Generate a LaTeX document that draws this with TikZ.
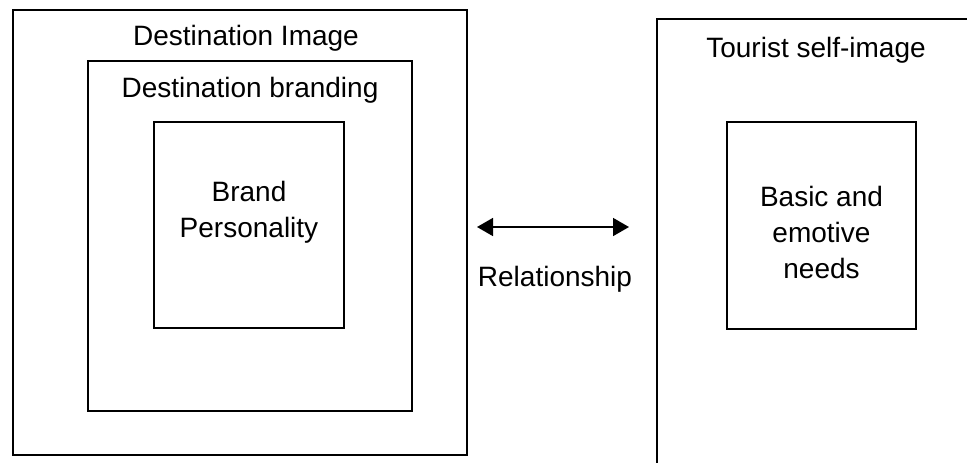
\documentclass[tikz,border=0pt]{standalone}
\usepackage{fontspec}
\setmainfont{Liberation Sans}
\usetikzlibrary{arrows.meta}
\tikzset{
  box/.style={draw,line width=0.8pt,inner sep=0pt},
  txt/.style={inner sep=0pt,anchor=base,align=center,font=\fontsize{14}{18}\selectfont},
  rel/.style={{Triangle[length=8pt,width=9pt]}-{Triangle[length=8pt,width=9pt]},line width=0.8pt}
}
\begin{document}
\begin{tikzpicture}[x=0.5pt,y=-0.5pt]
  \useasboundingbox[fill=white] (0,0) rectangle (967,462);

  % destination side
  \node[box,minimum width=227pt,minimum height=222.5pt] (image) at (240,232.5) {};
  \node[box,minimum width=162pt,minimum height=175pt] (branding) at (250,236) {};
  \node[box,minimum width=95pt,minimum height=103pt] (personality) at (249,225) {};
  \node[txt] (imagelbl) at (246,45) {Destination Image};
  \node[txt] (brandinglbl) at (250,97) {Destination branding};
  \node[txt] (personalitylbl) at (249,237) {Brand\\Personality};

  % tourist side
  \node[box,minimum width=159pt,minimum height=225.5pt] (self) at (816,244.5) {};
  \node[box,minimum width=94.5pt,minimum height=103.5pt] (needs) at (821.5,225.5) {};
  \node[txt] (selflbl) at (816,57) {Tourist self-image};
  \node[txt] (needslbl) at (821.5,278) {Basic and\\emotive\\needs};

  \coordinate (relL) at (477,227);
  \coordinate (relR) at (629,227);
  \draw[rel] (relL) -- (relR);
  \node[txt] (rellbl) at (555,286) {Relationship};
\end{tikzpicture}
\end{document}
